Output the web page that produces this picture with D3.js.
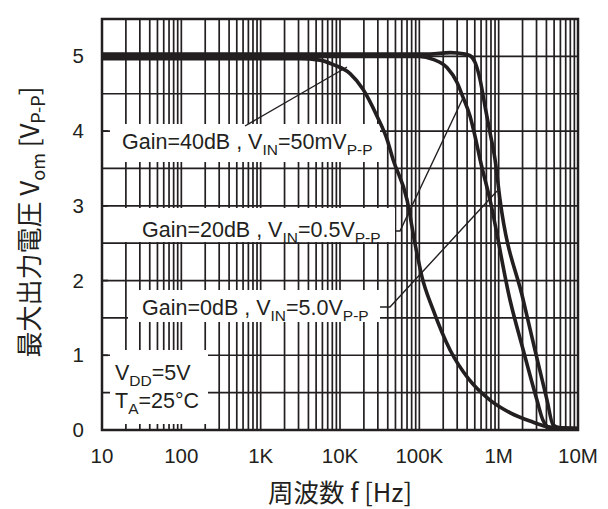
<!DOCTYPE html>
<html>
<head>
<meta charset="utf-8">
<script src="https://cdn.jsdelivr.net/npm/d3@7"></script>
<style>
  body { margin: 0; background: #fff; }
  svg { display: block; }
  text { font-family: "Liberation Sans", Arial, sans-serif; fill: #231f20; }
  .cjk { font-family: "Noto Sans CJK JP", "Liberation Sans", sans-serif; }
</style>
</head>
<body>
<svg id="chart" width="608" height="509"></svg>
<script>
// 軸の目盛
const freqTicks = [10, 100, 1e3, 1e4, 1e5, 1e6, 1e7];
const freqTickLabels = ["10", "100", "1K", "10K", "100K", "1M", "10M"];
const voltTicks = [0, 1, 2, 3, 4, 5];

// Gain=40dB , VIN=50mVP-P
const gain40Freq = [10, 3100, 5600, 8200, 13400, 19500, 29300, 39200, 46600, 70000, 88000, 108000, 149000, 244000, 420000, 778000, 1400000, 2480000, 4400000, 10000000];
const gain40Vom  = [4.97, 4.97, 4.95, 4.89, 4.77, 4.56, 4.2, 3.89, 3.62, 3.08, 2.5, 2.05, 1.61, 1.07, 0.68, 0.4, 0.23, 0.12, 0.04, 0.02];

// Gain=20dB , VIN=0.5VP-P
const gain20Freq = [10, 100000, 149000, 223000, 299000, 356000, 436000, 504000, 583000, 778000, 1390000, 2040000, 3040000, 3620000, 4440000, 10000000];
const gain20Vom  = [5.0, 5.0, 4.96, 4.85, 4.65, 4.45, 4.2, 3.93, 3.62, 3.08, 1.74, 1.07, 0.4, 0.13, 0.03, 0.02];

// Gain=0dB , VIN=5.0VP-P
const gain0Freq = [10, 136000, 244000, 377000, 436000, 504000, 583000, 673000, 778000, 900000, 1040000, 2040000, 2870000, 4070000, 4840000, 5930000, 10000000];
const gain0Vom  = [5.03, 5.03, 5.05, 5.03, 5.01, 4.92, 4.69, 4.33, 3.98, 3.62, 3.08, 1.74, 1.07, 0.4, 0.07, 0.03, 0.02];

const INK = "#231f20";
const svg = d3.select("#chart");
const x = d3.scaleLog().domain([10, 1e7]).range([102, 578]);
const y = d3.scaleLinear().domain([0, 5.5]).range([430, 19]);

// グリッド
const vGrid = [];
for (let e = 1; e < 7; e++) for (let k = 1; k < 10; k++) {
  const f = k * Math.pow(10, e);
  if (f > 10 && f < 1e7) vGrid.push(f);
}
const hGrid = d3.range(0.5, 5.01, 0.5);

const gGrid = svg.append("g");
gGrid.selectAll("line.v").data(vGrid).join("line")
  .attr("x1", d => x(d)).attr("x2", d => x(d))
  .attr("y1", y(0)).attr("y2", y(5.5))
  .attr("stroke", INK).attr("stroke-width", 1.7);
gGrid.selectAll("line.h").data(hGrid).join("line")
  .attr("x1", x(10)).attr("x2", x(1e7))
  .attr("y1", d => y(d)).attr("y2", d => y(d))
  .attr("stroke", INK).attr("stroke-width", 1.7);

// 凡例の白い下地
const boxes = [
  [110, 124, 270, 38],
  [103, 208, 292, 34],
  [128, 290, 252, 32],
  [110, 350, 98, 74]
];
svg.append("g").selectAll("rect").data(boxes).join("rect")
  .attr("x", d => d[0]).attr("y", d => d[1])
  .attr("width", d => d[2]).attr("height", d => d[3])
  .attr("fill", "#fff");

// 内向きの目盛
svg.append("g").selectAll("line").data(voltTicks).join("line")
  .attr("x1", x(10)).attr("x2", x(10) + 6)
  .attr("y1", d => y(d)).attr("y2", d => y(d))
  .attr("stroke", INK).attr("stroke-width", 1.7);

// 枠
svg.append("rect")
  .attr("x", x(10)).attr("y", y(5.5))
  .attr("width", x(1e7) - x(10)).attr("height", y(0) - y(5.5))
  .attr("fill", "none").attr("stroke", INK).attr("stroke-width", 2.5);

// 曲線
const line = d3.line().x(d => x(d[0])).y(d => y(d[1])).curve(d3.curveMonotoneX);
const series = [
  d3.zip(gain40Freq, gain40Vom),
  d3.zip(gain20Freq, gain20Vom),
  d3.zip(gain0Freq, gain0Vom)
];
svg.append("g").selectAll("path").data(series).join("path")
  .attr("d", line)
  .attr("fill", "none").attr("stroke", INK)
  .attr("stroke-width", 3.6).attr("stroke-linejoin", "round");

// 引き出し線
const leaders = [
  [[245, 126], [347, 67]],
  [[395, 231], [400, 231], [463, 98]],
  [[380, 307], [390, 307], [497, 191]]
];
svg.append("g").selectAll("polyline").data(leaders).join("polyline")
  .attr("points", d => d.map(p => p.join(",")).join(" "))
  .attr("fill", "none").attr("stroke", INK).attr("stroke-width", 1.4);

// 軸ラベル
svg.append("g").selectAll("text").data(freqTicks).join("text")
  .attr("x", d => x(d)).attr("y", 463)
  .attr("text-anchor", "middle").attr("font-size", 20.5)
  .text((d, i) => freqTickLabels[i]);
svg.append("g").selectAll("text").data(voltTicks).join("text")
  .attr("x", 84).attr("y", d => y(d) + 7)
  .attr("text-anchor", "end").attr("font-size", 20.5)
  .text(d => d);

svg.append("text").attr("class", "cjk")
  .attr("x", 340).attr("y", 502)
  .attr("text-anchor", "middle").attr("font-size", 25.5)
  .text("周波数 f [Hz]");

const yt = svg.append("text").attr("class", "cjk")
  .attr("transform", "translate(39,222) rotate(-90)")
  .attr("text-anchor", "middle").attr("font-size", 26);
yt.append("tspan").text("最大出力電圧 V");
yt.append("tspan").attr("font-size", 18).attr("dy", 6).text("om");
yt.append("tspan").attr("dy", -6).text(" [V");
yt.append("tspan").attr("font-size", 18).attr("dy", 6).text("P-P");
yt.append("tspan").attr("dy", -6).text("]");

// 凡例テキスト
function subText(xp, yp, parts) {
  const t = svg.append("text").attr("x", xp).attr("y", yp).attr("font-size", 21.5);
  let down = false;
  parts.forEach(([s, sub]) => {
    const sp = t.append("tspan").text(s);
    if (sub && !down) { sp.attr("font-size", 15.5).attr("dy", 5.5); down = true; }
    else if (!sub && down) { sp.attr("dy", -5.5); down = false; }
    else if (sub) sp.attr("font-size", 15.5);
  });
}
subText(122, 149, [["Gain=40dB , V"], ["IN", 1], ["=50mV"], ["P-P", 1]]);
subText(142, 237, [["Gain=20dB , V"], ["IN", 1], ["=0.5V"], ["P-P", 1]]);
subText(142, 315, [["Gain=0dB , V"], ["IN", 1], ["=5.0V"], ["P-P", 1]]);
subText(115, 380, [["V"], ["DD", 1], ["=5V"]]);
subText(115, 408, [["T"], ["A", 1], ["=25°C"]]);
</script>
</body>
</html>
